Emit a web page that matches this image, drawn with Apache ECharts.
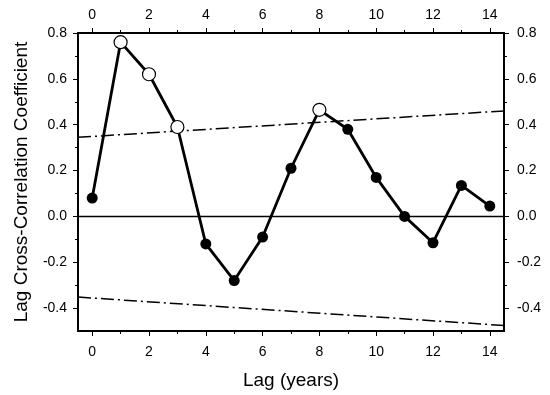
<!DOCTYPE html>
<html>
<head>
<meta charset="utf-8">
<script src="https://cdn.jsdelivr.net/npm/echarts@6/dist/echarts.min.js"></script>
<style>html,body{margin:0;padding:0;background:#fff}#c{width:550px;height:395px}</style>
</head>
<body>
<div id="c"></div>
<script>
var lags = [0,1,2,3,4,5,6,7,8,9,10,11,12,13,14];
var ccf = [0.08,0.76,0.62,0.39,-0.12,-0.28,-0.09,0.21,0.465,0.38,0.17,0.0,-0.115,0.135,0.045];
var significant = [0,1,1,1,0,0,0,0,1,0,0,0,0,0,0];
var boundLags = [-0.5, 14.5];
var upperBound = [0.345, 0.46];
var lowerBound = [-0.352, -0.476];
var xMajor = [0,2,4,6,8,10,12,14];
var xMinor = [1,3,5,7,9,11,13];
var yMajor = [-0.4,-0.2,0,0.2,0.4,0.6,0.8];
var yMinor = [-0.3,-0.1,0.1,0.3,0.5,0.7];

var font = 'Liberation Sans, Arial, sans-serif';

function xAx(pos, show, ticks, len, labels) {
  return {
    type:'value', position:pos, min:-0.5, max:14.5,
    axisLine:{show:show, onZero:false, lineStyle:{color:'#000', width:2}},
    axisTick:{show:true, inside:false, length:len, customValues:ticks, lineStyle:{color:'#000', width:1}},
    axisLabel:{show:!!labels, customValues:labels||[], margin:10, color:'#000', fontSize:14, fontFamily:font},
    splitLine:{show:false}
  };
}
function yAx(pos, show, ticks, len, labels) {
  return {
    type:'value', position:pos, min:-0.5, max:0.8,
    axisLine:{show:show, onZero:false, lineStyle:{color:'#000', width:2}},
    axisTick:{show:true, inside:false, length:len, customValues:ticks, lineStyle:{color:'#000', width:1}},
    axisLabel:{show:!!labels, customValues:labels||[], margin:10, color:'#000', fontSize:14, fontFamily:font,
      formatter:function(v){return (Math.abs(v)<1e-9?0:v).toFixed(1);}},
    splitLine:{show:false}
  };
}

var xAxes = [
  xAx('bottom', true, xMajor, 5, xMajor),
  xAx('top', true, xMajor, 5, xMajor),
  xAx('bottom', false, xMinor, 3, null),
  xAx('top', false, xMinor, 3, null)
];
xAxes[0].name = 'Lag (years)';
xAxes[0].nameLocation = 'middle';
xAxes[0].nameGap = 40;
xAxes[0].nameTextStyle = {color:'#000', fontSize:19, fontFamily:font};
xAxes[0].axisLabel.margin = 14;
xAxes[1].axisLabel.margin = 11;

var yAxes = [
  yAx('left', true, yMajor, 5, yMajor),
  yAx('right', true, yMajor, 5, yMajor),
  yAx('left', false, yMinor, 3, null),
  yAx('right', false, yMinor, 3, null)
];
yAxes[0].name = 'Lag Cross-Correlation Coefficient';
yAxes[0].nameLocation = 'middle';
yAxes[0].nameGap = 47;
yAxes[0].nameTextStyle = {color:'#000', fontSize:19, fontFamily:font};
yAxes[0].axisLabel.margin = 11;
yAxes[1].axisLabel.margin = 13;

var pts = lags.map(function(l,i){
  var s = significant[i];
  return {value:[l, ccf[i]], symbolSize: s?13:11,
    itemStyle:{color: s?'#fff':'#000', borderColor:'#000', borderWidth: s?1.2:0}};
});

var chart = echarts.init(document.getElementById('c'), null, {renderer:'canvas'});
chart.setOption({
  animation:false,
  backgroundColor:'#fff',
  grid:{left:78, right:46, top:33, bottom:64},
  xAxis: xAxes,
  yAxis: yAxes,
  series:[
    {type:'line', data:[[boundLags[0],0],[boundLags[1],0]], symbol:'none', lineStyle:{color:'#000', width:1.5}, silent:true},
    {type:'line', data:[[boundLags[0],upperBound[0]],[boundLags[1],upperBound[1]]], symbol:'none',
      lineStyle:{color:'#000', width:1.5, type:[13,4,2,4]}, silent:true},
    {type:'line', data:[[boundLags[0],lowerBound[0]],[boundLags[1],lowerBound[1]]], symbol:'none',
      lineStyle:{color:'#000', width:1.5, type:[13,4,2,4]}, silent:true},
    {type:'line', data:pts, symbol:'circle', lineStyle:{color:'#000', width:2.8}, z:5}
  ]
});
</script>
</body>
</html>
